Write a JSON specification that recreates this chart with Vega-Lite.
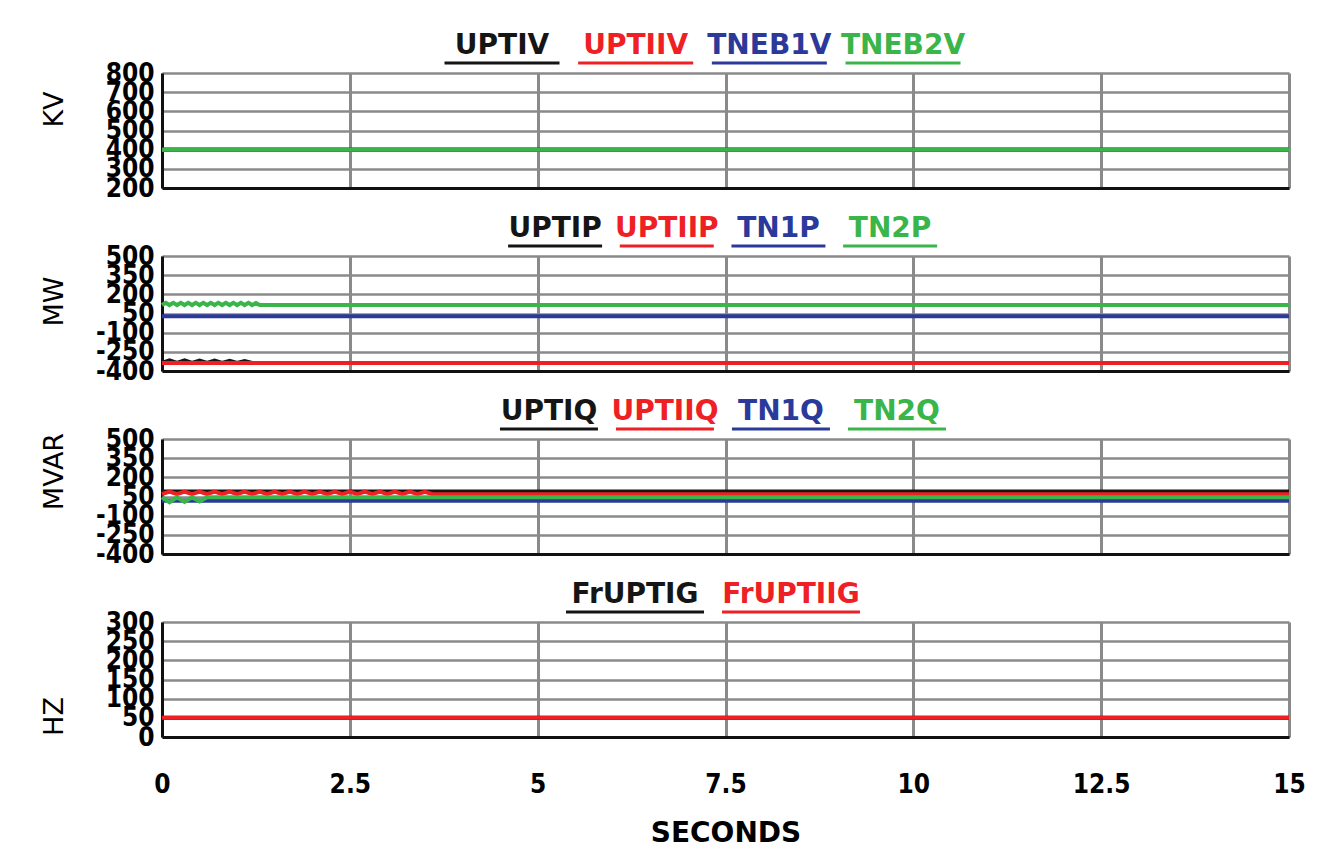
{
  "$schema": "https://vega.github.io/schema/vega-lite/v6.json",
  "background": "white",
  "padding": {"left": 40, "top": 9, "right": 5, "bottom": 5},
  "bounds": "flush",
  "center": true,
  "spacing": 4,
  "config": {
    "view": {"stroke": null},
    "axis": {
      "gridColor": "#8a8a8a", "gridWidth": 2.5, "gridOpacity": 1,
      "domainColor": "#111111", "domainWidth": 3,
      "ticks": false, "labelColor": "#000000", "titleColor": "#000000",
      "labelOverlap": false, "labelFlush": false, "labelBound": false,
      "labelFont": "DejaVu Sans Condensed", "labelFontWeight": "bold", "labelFontSize": 26,
      "labelExpr": "datum.value + ''",
      "titleFont": "DejaVu Sans", "titleFontWeight": "normal", "titleFontSize": 27
    },
    "text": {"font": "DejaVu Sans", "fontWeight": "bold", "fontSize": 28},
    "tick": {"opacity": 1}
  },
  "datasets": {
    "kv": [
      {"series": "UPTIV", "t": 0, "v": 400}, {"series": "UPTIV", "t": 15, "v": 400},
      {"series": "UPTIIV", "t": 0, "v": 400}, {"series": "UPTIIV", "t": 15, "v": 400},
      {"series": "TNEB1V", "t": 0, "v": 400}, {"series": "TNEB1V", "t": 15, "v": 400},
      {"series": "TNEB2V", "t": 0, "v": 400}, {"series": "TNEB2V", "t": 15, "v": 400}
    ],
    "mw": [
      {"series": "UPTIP", "t": 0, "v": -337}, {"series": "UPTIP", "t": 0.1, "v": -316}, {"series": "UPTIP", "t": 0.2, "v": -337},
      {"series": "UPTIP", "t": 0.3, "v": -316}, {"series": "UPTIP", "t": 0.4, "v": -337}, {"series": "UPTIP", "t": 0.5, "v": -318},
      {"series": "UPTIP", "t": 0.6, "v": -337}, {"series": "UPTIP", "t": 0.7, "v": -318}, {"series": "UPTIP", "t": 0.8, "v": -337},
      {"series": "UPTIP", "t": 0.9, "v": -320}, {"series": "UPTIP", "t": 1.0, "v": -337}, {"series": "UPTIP", "t": 1.1, "v": -322},
      {"series": "UPTIP", "t": 1.2, "v": -337}, {"series": "UPTIP", "t": 15, "v": -337},
      {"series": "UPTIIP", "t": 0, "v": -337}, {"series": "UPTIIP", "t": 15, "v": -337},
      {"series": "TN1P", "t": 0, "v": 28}, {"series": "TN1P", "t": 15, "v": 28},
      {"series": "TN2P", "t": 0, "v": 116}, {"series": "TN2P", "t": 0.05, "v": 134}, {"series": "TN2P", "t": 0.1, "v": 116},
      {"series": "TN2P", "t": 0.15, "v": 134}, {"series": "TN2P", "t": 0.2, "v": 116}, {"series": "TN2P", "t": 0.25, "v": 134},
      {"series": "TN2P", "t": 0.3, "v": 116}, {"series": "TN2P", "t": 0.35, "v": 134}, {"series": "TN2P", "t": 0.4, "v": 116},
      {"series": "TN2P", "t": 0.45, "v": 134}, {"series": "TN2P", "t": 0.5, "v": 116}, {"series": "TN2P", "t": 0.55, "v": 134},
      {"series": "TN2P", "t": 0.6, "v": 116}, {"series": "TN2P", "t": 0.65, "v": 134}, {"series": "TN2P", "t": 0.7, "v": 116},
      {"series": "TN2P", "t": 0.75, "v": 134}, {"series": "TN2P", "t": 0.8, "v": 116}, {"series": "TN2P", "t": 0.85, "v": 134},
      {"series": "TN2P", "t": 0.9, "v": 116}, {"series": "TN2P", "t": 0.95, "v": 134}, {"series": "TN2P", "t": 1.0, "v": 116},
      {"series": "TN2P", "t": 1.05, "v": 134}, {"series": "TN2P", "t": 1.1, "v": 116}, {"series": "TN2P", "t": 1.15, "v": 134},
      {"series": "TN2P", "t": 1.2, "v": 116}, {"series": "TN2P", "t": 1.25, "v": 132}, {"series": "TN2P", "t": 1.3, "v": 116},
      {"series": "TN2P", "t": 15, "v": 116}
    ],
    "mvar": [
      {"series": "UPTIQ", "t": 0, "v": 90}, {"series": "UPTIQ", "t": 15, "v": 90},
      {"series": "UPTIIQ", "t": 0, "v": 68}, {"series": "UPTIIQ", "t": 0.1, "v": 88}, {"series": "UPTIIQ", "t": 0.2, "v": 68},
      {"series": "UPTIIQ", "t": 0.3, "v": 88}, {"series": "UPTIIQ", "t": 0.4, "v": 68}, {"series": "UPTIIQ", "t": 0.5, "v": 88},
      {"series": "UPTIIQ", "t": 0.6, "v": 68}, {"series": "UPTIIQ", "t": 0.7, "v": 88}, {"series": "UPTIIQ", "t": 0.8, "v": 68},
      {"series": "UPTIIQ", "t": 0.9, "v": 88}, {"series": "UPTIIQ", "t": 1.0, "v": 68}, {"series": "UPTIIQ", "t": 1.1, "v": 88},
      {"series": "UPTIIQ", "t": 1.2, "v": 68}, {"series": "UPTIIQ", "t": 1.3, "v": 88}, {"series": "UPTIIQ", "t": 1.4, "v": 68},
      {"series": "UPTIIQ", "t": 1.5, "v": 88}, {"series": "UPTIIQ", "t": 1.6, "v": 68}, {"series": "UPTIIQ", "t": 1.7, "v": 88},
      {"series": "UPTIIQ", "t": 1.8, "v": 68}, {"series": "UPTIIQ", "t": 1.9, "v": 88}, {"series": "UPTIIQ", "t": 2.0, "v": 68},
      {"series": "UPTIIQ", "t": 2.1, "v": 88}, {"series": "UPTIIQ", "t": 2.2, "v": 68}, {"series": "UPTIIQ", "t": 2.3, "v": 88},
      {"series": "UPTIIQ", "t": 2.4, "v": 68}, {"series": "UPTIIQ", "t": 2.5, "v": 88}, {"series": "UPTIIQ", "t": 2.6, "v": 68},
      {"series": "UPTIIQ", "t": 2.7, "v": 88}, {"series": "UPTIIQ", "t": 2.8, "v": 68}, {"series": "UPTIIQ", "t": 2.9, "v": 88},
      {"series": "UPTIIQ", "t": 3.0, "v": 68}, {"series": "UPTIIQ", "t": 3.1, "v": 88}, {"series": "UPTIIQ", "t": 3.2, "v": 68},
      {"series": "UPTIIQ", "t": 3.3, "v": 88}, {"series": "UPTIIQ", "t": 3.4, "v": 68}, {"series": "UPTIIQ", "t": 3.5, "v": 86},
      {"series": "UPTIIQ", "t": 3.6, "v": 68}, {"series": "UPTIIQ", "t": 15, "v": 68},
      {"series": "TN1Q", "t": 0, "v": 16}, {"series": "TN1Q", "t": 15, "v": 16},
      {"series": "TN2Q", "t": 0, "v": 44}, {"series": "TN2Q", "t": 0.1, "v": 5}, {"series": "TN2Q", "t": 0.2, "v": 44},
      {"series": "TN2Q", "t": 0.3, "v": 8}, {"series": "TN2Q", "t": 0.4, "v": 44}, {"series": "TN2Q", "t": 0.5, "v": 12},
      {"series": "TN2Q", "t": 0.6, "v": 44}, {"series": "TN2Q", "t": 15, "v": 44}
    ],
    "hz": [
      {"series": "FrUPTIG", "t": 0, "v": 50}, {"series": "FrUPTIG", "t": 15, "v": 50},
      {"series": "FrUPTIIG", "t": 0, "v": 50}, {"series": "FrUPTIIG", "t": 15, "v": 50}
    ]
  },
  "vconcat": [
    {
      "width": 802, "height": 60,
      "data": {"values": [{"series": "UPTIV"}, {"series": "UPTIIV"}, {"series": "TNEB1V"}, {"series": "TNEB2V"}]},
      "encoding": {
        "x": {"field": "series", "type": "nominal", "sort": null, "axis": null, "scale": {"type": "band", "paddingInner": 0, "paddingOuter": 1, "align": 0.414}},
        "color": {"field": "series", "type": "nominal", "legend": null, "scale": {"domain": ["UPTIV", "UPTIIV", "TNEB1V", "TNEB2V", "UPTIP", "UPTIIP", "TN1P", "TN2P", "UPTIQ", "UPTIIQ", "TN1Q", "TN2Q", "FrUPTIG", "FrUPTIIG"], "range": ["#151515", "#ee2024", "#2b3a9a", "#39b54a", "#151515", "#ee2024", "#2b3a9a", "#39b54a", "#151515", "#ee2024", "#2b3a9a", "#39b54a", "#151515", "#ee2024"]}}
      },
      "layer": [
        {"mark": {"type": "text", "baseline": "middle"}, "encoding": {"text": {"field": "series"}, "y": {"datum": 0.383, "type": "quantitative", "scale": {"domain": [0, 1]}, "axis": null}}},
        {"mark": {"type": "tick", "orient": "horizontal", "thickness": 3, "size": 115}, "encoding": {"y": {"datum": 0.1, "type": "quantitative", "scale": {"domain": [0, 1]}, "axis": null}}}
      ]
    },
    {
      "width": 1127, "height": 115,
      "data": {"name": "kv"},
      "mark": {"type": "line", "strokeWidth": 4},
      "encoding": {
        "x": {"field": "t", "type": "quantitative", "scale": {"domain": [0, 15], "nice": false}, "axis": {"values": [0, 2.5, 5, 7.5, 10, 12.5, 15], "labels": false, "title": null, "gridWidth": 3}},
        "y": {"field": "v", "type": "quantitative", "scale": {"domain": [200, 800], "nice": false, "zero": false}, "axis": {"values": [200, 300, 400, 500, 600, 700, 800], "labelPadding": 8, "title": "KV", "titleX": -108, "titleY": 36, "titleAlign": "center", "titleBaseline": "middle", "titleAngle": 270}},
        "color": {"field": "series", "type": "nominal", "legend": null, "scale": {"domain": ["UPTIV", "UPTIIV", "TNEB1V", "TNEB2V", "UPTIP", "UPTIIP", "TN1P", "TN2P", "UPTIQ", "UPTIIQ", "TN1Q", "TN2Q", "FrUPTIG", "FrUPTIIG"], "range": ["#151515", "#ee2024", "#2b3a9a", "#39b54a", "#151515", "#ee2024", "#2b3a9a", "#39b54a", "#151515", "#ee2024", "#2b3a9a", "#39b54a", "#151515", "#ee2024"]}}
      }
    },
    {
      "width": 670, "height": 60,
      "data": {"values": [{"series": "UPTIP"}, {"series": "UPTIIP"}, {"series": "TN1P"}, {"series": "TN2P"}]},
      "encoding": {
        "x": {"field": "series", "type": "nominal", "sort": null, "axis": null, "scale": {"type": "band", "paddingInner": 0, "paddingOuter": 1, "align": 0.487}},
        "color": {"field": "series", "type": "nominal", "legend": null, "scale": {"domain": ["UPTIV", "UPTIIV", "TNEB1V", "TNEB2V", "UPTIP", "UPTIIP", "TN1P", "TN2P", "UPTIQ", "UPTIIQ", "TN1Q", "TN2Q", "FrUPTIG", "FrUPTIIG"], "range": ["#151515", "#ee2024", "#2b3a9a", "#39b54a", "#151515", "#ee2024", "#2b3a9a", "#39b54a", "#151515", "#ee2024", "#2b3a9a", "#39b54a", "#151515", "#ee2024"]}}
      },
      "layer": [
        {"mark": {"type": "text", "baseline": "middle"}, "encoding": {"text": {"field": "series"}, "y": {"datum": 0.383, "type": "quantitative", "scale": {"domain": [0, 1]}, "axis": null}}},
        {"mark": {"type": "tick", "orient": "horizontal", "thickness": 3, "size": 94}, "encoding": {"y": {"datum": 0.1, "type": "quantitative", "scale": {"domain": [0, 1]}, "axis": null}}}
      ]
    },
    {
      "width": 1127, "height": 115,
      "data": {"name": "mw"},
      "mark": {"type": "line", "strokeWidth": 4},
      "encoding": {
        "x": {"field": "t", "type": "quantitative", "scale": {"domain": [0, 15], "nice": false}, "axis": {"values": [0, 2.5, 5, 7.5, 10, 12.5, 15], "labels": false, "title": null, "gridWidth": 3}},
        "y": {"field": "v", "type": "quantitative", "scale": {"domain": [-400, 500], "nice": false, "zero": false}, "axis": {"values": [-400, -250, -100, 50, 200, 350, 500], "labelPadding": 8, "title": "MW", "titleX": -108, "titleY": 45, "titleAlign": "center", "titleBaseline": "middle", "titleAngle": 270}},
        "color": {"field": "series", "type": "nominal", "legend": null, "scale": {"domain": ["UPTIV", "UPTIIV", "TNEB1V", "TNEB2V", "UPTIP", "UPTIIP", "TN1P", "TN2P", "UPTIQ", "UPTIIQ", "TN1Q", "TN2Q", "FrUPTIG", "FrUPTIIG"], "range": ["#151515", "#ee2024", "#2b3a9a", "#39b54a", "#151515", "#ee2024", "#2b3a9a", "#39b54a", "#151515", "#ee2024", "#2b3a9a", "#39b54a", "#151515", "#ee2024"]}}
      }
    },
    {
      "width": 696, "height": 60,
      "data": {"values": [{"series": "UPTIQ"}, {"series": "UPTIIQ"}, {"series": "TN1Q"}, {"series": "TN2Q"}]},
      "encoding": {
        "x": {"field": "series", "type": "nominal", "sort": null, "axis": null, "scale": {"type": "band", "paddingInner": 0, "paddingOuter": 1, "align": 0.489}},
        "color": {"field": "series", "type": "nominal", "legend": null, "scale": {"domain": ["UPTIV", "UPTIIV", "TNEB1V", "TNEB2V", "UPTIP", "UPTIIP", "TN1P", "TN2P", "UPTIQ", "UPTIIQ", "TN1Q", "TN2Q", "FrUPTIG", "FrUPTIIG"], "range": ["#151515", "#ee2024", "#2b3a9a", "#39b54a", "#151515", "#ee2024", "#2b3a9a", "#39b54a", "#151515", "#ee2024", "#2b3a9a", "#39b54a", "#151515", "#ee2024"]}}
      },
      "layer": [
        {"mark": {"type": "text", "baseline": "middle"}, "encoding": {"text": {"field": "series"}, "y": {"datum": 0.383, "type": "quantitative", "scale": {"domain": [0, 1]}, "axis": null}}},
        {"mark": {"type": "tick", "orient": "horizontal", "thickness": 3, "size": 98}, "encoding": {"y": {"datum": 0.1, "type": "quantitative", "scale": {"domain": [0, 1]}, "axis": null}}}
      ]
    },
    {
      "width": 1127, "height": 115,
      "data": {"name": "mvar"},
      "mark": {"type": "line", "strokeWidth": 4},
      "encoding": {
        "x": {"field": "t", "type": "quantitative", "scale": {"domain": [0, 15], "nice": false}, "axis": {"values": [0, 2.5, 5, 7.5, 10, 12.5, 15], "labels": false, "title": null, "gridWidth": 3}},
        "y": {"field": "v", "type": "quantitative", "scale": {"domain": [-400, 500], "nice": false, "zero": false}, "axis": {"values": [-400, -250, -100, 50, 200, 350, 500], "labelPadding": 8, "title": "MVAR", "titleX": -108, "titleY": 32, "titleAlign": "center", "titleBaseline": "middle", "titleAngle": 270}},
        "color": {"field": "series", "type": "nominal", "legend": null, "scale": {"domain": ["UPTIV", "UPTIIV", "TNEB1V", "TNEB2V", "UPTIP", "UPTIIP", "TN1P", "TN2P", "UPTIQ", "UPTIIQ", "TN1Q", "TN2Q", "FrUPTIG", "FrUPTIIG"], "range": ["#151515", "#ee2024", "#2b3a9a", "#39b54a", "#151515", "#ee2024", "#2b3a9a", "#39b54a", "#151515", "#ee2024", "#2b3a9a", "#39b54a", "#151515", "#ee2024"]}}
      }
    },
    {
      "width": 624, "height": 60,
      "data": {"values": [{"series": "FrUPTIG"}, {"series": "FrUPTIIG"}]},
      "encoding": {
        "x": {"field": "series", "type": "nominal", "sort": null, "axis": null, "scale": {"type": "band", "paddingInner": 0, "paddingOuter": 1, "align": 0.46}},
        "color": {"field": "series", "type": "nominal", "legend": null, "scale": {"domain": ["UPTIV", "UPTIIV", "TNEB1V", "TNEB2V", "UPTIP", "UPTIIP", "TN1P", "TN2P", "UPTIQ", "UPTIIQ", "TN1Q", "TN2Q", "FrUPTIG", "FrUPTIIG"], "range": ["#151515", "#ee2024", "#2b3a9a", "#39b54a", "#151515", "#ee2024", "#2b3a9a", "#39b54a", "#151515", "#ee2024", "#2b3a9a", "#39b54a", "#151515", "#ee2024"]}}
      },
      "layer": [
        {"mark": {"type": "text", "baseline": "middle"}, "encoding": {"text": {"field": "series"}, "y": {"datum": 0.383, "type": "quantitative", "scale": {"domain": [0, 1]}, "axis": null}}},
        {"mark": {"type": "tick", "orient": "horizontal", "thickness": 3, "size": 138}, "encoding": {"y": {"datum": 0.1, "type": "quantitative", "scale": {"domain": [0, 1]}, "axis": null}}}
      ]
    },
    {
      "width": 1127, "height": 115,
      "data": {"name": "hz"},
      "mark": {"type": "line", "strokeWidth": 4},
      "encoding": {
        "x": {"field": "t", "type": "quantitative", "scale": {"domain": [0, 15], "nice": false}, "axis": {"values": [0, 2.5, 5, 7.5, 10, 12.5, 15], "labelFontSize": 26, "labelPadding": 34, "title": "SECONDS", "titleFont": "DejaVu Sans", "titleFontWeight": "bold", "titleFontSize": 28, "titlePadding": 22, "gridWidth": 3}},
        "y": {"field": "v", "type": "quantitative", "scale": {"domain": [0, 300], "nice": false, "zero": false}, "axis": {"values": [0, 50, 100, 150, 200, 250, 300], "labelPadding": 8, "title": "HZ", "titleX": -108, "titleY": 94, "titleAlign": "center", "titleBaseline": "middle", "titleAngle": 270}},
        "color": {"field": "series", "type": "nominal", "legend": null, "scale": {"domain": ["UPTIV", "UPTIIV", "TNEB1V", "TNEB2V", "UPTIP", "UPTIIP", "TN1P", "TN2P", "UPTIQ", "UPTIIQ", "TN1Q", "TN2Q", "FrUPTIG", "FrUPTIIG"], "range": ["#151515", "#ee2024", "#2b3a9a", "#39b54a", "#151515", "#ee2024", "#2b3a9a", "#39b54a", "#151515", "#ee2024", "#2b3a9a", "#39b54a", "#151515", "#ee2024"]}}
      }
    }
  ]
}
